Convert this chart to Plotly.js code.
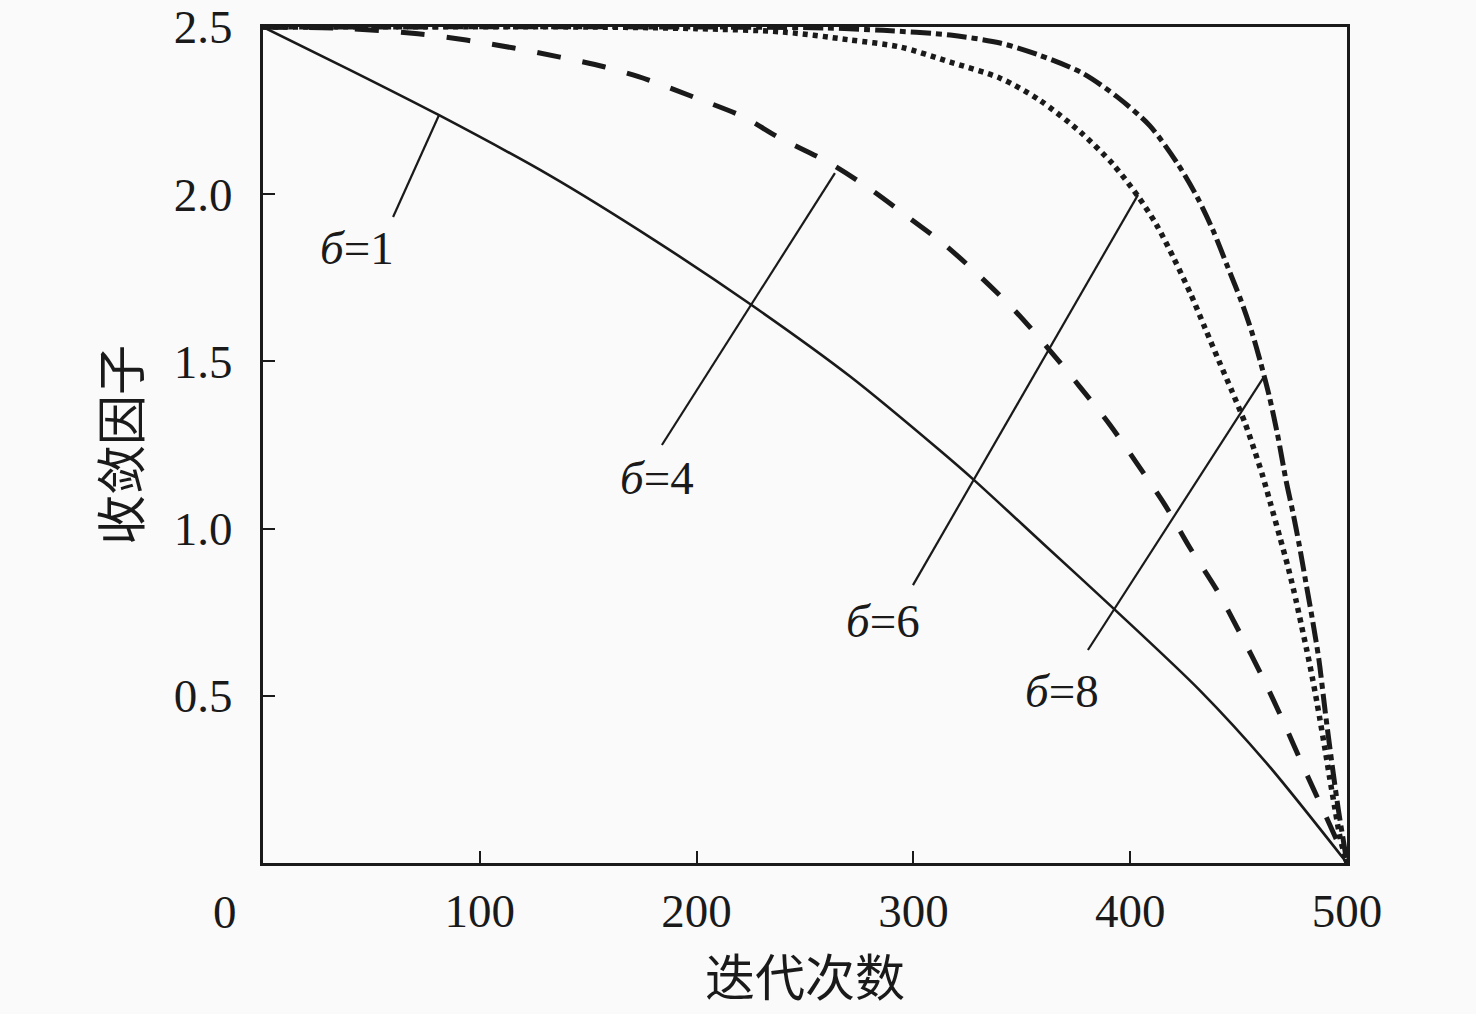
<!DOCTYPE html>
<html>
<head>
<meta charset="utf-8">
<script src="https://cdn.plot.ly/plotly-3.0.1.min.js"></script>
<style>
	html, body { margin: 0; padding: 0; background: #fafafa; }
	#graph { width: 1476px; height: 1014px; }
</style>
</head>
<body>
<div id="graph"></div>
<script>
/* global Plotly */

// values, one pair of arrays per curve
const sigma1X = [0, 40, 81, 132, 180, 225, 271, 312, 328, 360, 393, 432, 463, 500];
const sigma1Y = [2.5, 2.372, 2.237, 2.057, 1.865, 1.67, 1.454, 1.235, 1.145, 0.954, 0.757, 0.517, 0.298, 0];

const sigma4X = [0, 40, 71.5, 93.7, 115.8, 137, 157.3, 177.6, 199.6, 221.7, 237.5, 260.6, 278.6, 297.5, 314.6,
	331.6, 347.8, 362, 376.8, 390.7, 403, 416, 427.6, 440, 450.6, 461, 470.5, 479.7, 489, 500];
const sigma4Y = [2.5, 2.495, 2.48, 2.461, 2.437, 2.41, 2.381, 2.342, 2.288, 2.231, 2.171, 2.096, 2.022, 1.932, 1.848,
	1.749, 1.645, 1.54, 1.424, 1.31, 1.196, 1.071, 0.942, 0.816, 0.688, 0.556, 0.425, 0.29, 0.158, 0];

const sigma6X = [0, 150, 200, 240, 270, 294, 317, 340, 358, 377, 392, 404, 412, 420, 428, 434.5, 441, 447, 453,
	457, 461, 464.5, 469, 473, 476.5, 479, 481.5, 484, 486, 487.5, 490, 492, 494.5, 497, 500];
const sigma6Y = [2.5, 2.5, 2.495, 2.485, 2.462, 2.44, 2.395, 2.347, 2.282, 2.186, 2.09, 1.99, 1.91, 1.81, 1.7,
	1.6, 1.5, 1.41, 1.315, 1.24, 1.16, 1.08, 0.975, 0.88, 0.785, 0.71, 0.635, 0.555, 0.485, 0.43, 0.335,
	0.255, 0.16, 0.07, 0];

const sigma8X = [0, 200, 260, 286, 317, 340, 358, 378, 394, 409, 422, 431, 438, 445, 451, 456, 460, 464, 468,
	472, 475, 478, 481, 484, 487, 490, 493, 496, 498, 500];
const sigma8Y = [2.5, 2.5, 2.497, 2.49, 2.476, 2.452, 2.416, 2.362, 2.291, 2.205, 2.09, 1.99, 1.895, 1.782,
	1.684, 1.59, 1.5, 1.4, 1.28, 1.14, 1.05, 0.95, 0.84, 0.73, 0.61, 0.45, 0.3, 0.16, 0.08, 0];

const xTicks = [100, 200, 300, 400, 500];
const yTicks = [0.5, 1.0, 1.5, 2.0, 2.5];
const yTickText = ["0.5", "1.0", "1.5", "2.0", "2.5"];
const curveLabels = ["1", "4", "6", "8"];

const SERIF = "'Liberation Serif', 'Times New Roman', serif";
const CJK = "'Noto Sans CJK SC', sans-serif";
const INK = "#1a1a1a";

const traces = [
	{ x: sigma1X, y: sigma1Y, line: { width: 2.6, dash: "solid" } },
	{ x: sigma4X, y: sigma4Y, line: { width: 5, dash: "24px,22px" } },
	{ x: sigma6X, y: sigma6Y, line: { width: 5.5, dash: "5px,5px" } },
	{ x: sigma8X, y: sigma8Y, line: { width: 5, dash: "20px,5px,6px,5px" } },
].map(t => ({
	...t,
	type: "scatter",
	mode: "lines",
	line: { ...t.line, color: INK, shape: "spline", smoothing: 0.8 },
	hoverinfo: "skip",
	showlegend: false,
}));

// leader lines: [curve end, label end], plus label centre, in data units
const leaders = [
	{ from: [81.2, 2.237], to: [60.0, 1.932], text: [43.4, 1.84] },
	{ from: [263.8, 2.063], to: [184.0, 1.25], text: [181.7, 1.15] },
	{ from: [403.6, 1.998], to: [299.8, 0.831], text: [286.0, 0.725] },
	{ from: [461.3, 1.45], to: [380.5, 0.637], text: [368.5, 0.515] },
];

const shapes = leaders.map(l => ({
	type: "line",
	xref: "x",
	yref: "y",
	x0: l.from[0],
	y0: l.from[1],
	x1: l.to[0],
	y1: l.to[1],
	line: { color: INK, width: 2.2 },
}));

const annotations = leaders.map((l, i) => ({
	x: l.text[0],
	y: l.text[1],
	xref: "x",
	yref: "y",
	showarrow: false,
	text: "<i>б</i>=" + curveLabels[i],
	font: { family: SERIF, size: 47, color: INK },
}));

// the shared origin label sits off to the lower left
annotations.push({
	x: -0.035,
	y: -0.0586,
	xref: "paper",
	yref: "paper",
	xanchor: "center",
	yanchor: "middle",
	showarrow: false,
	text: "0",
	font: { family: SERIF, size: 47, color: INK },
});

const axisCommon = {
	showgrid: false,
	zeroline: false,
	showline: true,
	linewidth: 3,
	linecolor: INK,
	mirror: true,
	ticks: "inside",
	ticklen: 12,
	tickwidth: 2,
	tickcolor: INK,
	tickfont: { family: SERIF, size: 47, color: INK },
	fixedrange: true,
};

const layout = {
	width: 1476,
	height: 1014,
	margin: { l: 263, r: 129, t: 27, b: 151 },
	paper_bgcolor: "#fafafa",
	plot_bgcolor: "#fafafa",
	showlegend: false,
	xaxis: {
		...axisCommon,
		range: [0, 500],
		tickvals: xTicks,
		ticklabelstandoff: 5,
		title: { text: "迭代次数", font: { family: CJK, size: 50, color: INK }, standoff: 25 },
	},
	yaxis: {
		...axisCommon,
		range: [0, 2.5],
		tickvals: yTicks,
		ticktext: yTickText,
		ticklabelstandoff: 18,
		title: { text: "收敛因子", font: { family: CJK, size: 50, color: INK }, standoff: 18 },
	},
	shapes,
	annotations,
};

Plotly.newPlot("graph", traces, layout, { displayModeBar: false, staticPlot: true });
</script>
</body>
</html>
